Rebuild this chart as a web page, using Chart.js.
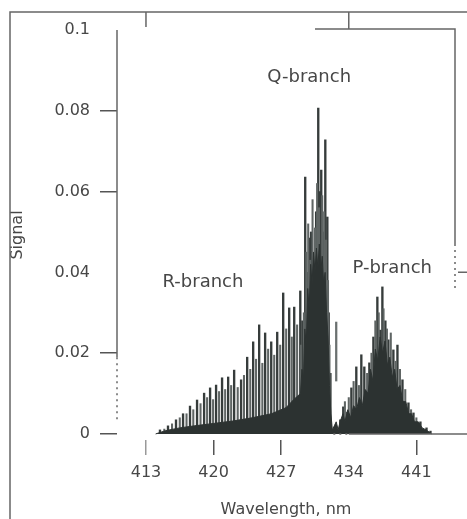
<!DOCTYPE html>
<html>
<head>
<meta charset="utf-8">
<title>Signal vs wavelength</title>
<script src="https://cdn.jsdelivr.net/npm/chart.js@4.4.0/dist/chart.umd.min.js"></script>
<style>
  html, body { margin: 0; padding: 0; background: #fff; }
  #wrap { position: relative; width: 467px; height: 519px; }
</style>
</head>
<body>
<div id="wrap"><canvas id="specChart" width="467" height="519"></canvas></div>
<script>
//------------------------------------------------------------------//
//------------------------------ Data ------------------------------//
//------------------------------------------------------------------//
// strong lines of the band (nm / signal)
var stickNm = [
    414.45, 415.28, 416.11, 416.84, 417.56, 418.29, 419.02, 419.64, 420.26, 420.88,
    421.51, 422.13, 422.85, 423.48, 424.10, 424.72, 425.34, 425.97, 426.59, 427.21,
    427.83, 428.35, 428.98, 429.20, 429.49, 429.70, 429.91, 430.10, 430.43, 430.62,
    430.84, 431.00, 431.15, 431.35, 431.57, 431.78, 431.92, 432.10,
    433.12, 433.43, 433.85, 434.27, 434.78, 435.30, 435.61, 436.13, 436.55, 436.96,
    437.27, 437.48, 437.79, 438.10, 438.62, 439.04, 439.56, 440.18, 440.70, 441.42,
    442.05, 442.46
];
var stickVal = [
    0.0010, 0.0020, 0.0035, 0.0050, 0.0069, 0.0084, 0.0101, 0.0114, 0.0121, 0.0139,
    0.0141, 0.0158, 0.0134, 0.0190, 0.0228, 0.0270, 0.0250, 0.0228, 0.0252, 0.0349,
    0.0312, 0.0314, 0.0354, 0.0280, 0.0636, 0.0400, 0.0485, 0.0500, 0.0450, 0.0550,
    0.0807, 0.0600, 0.0653, 0.0500, 0.0728, 0.0537, 0.0300, 0.0150,
    0.0035, 0.0067, 0.0054, 0.0114, 0.0166, 0.0196, 0.0166, 0.0176, 0.0240, 0.0339,
    0.0257, 0.0364, 0.0280, 0.0233, 0.0208, 0.0220, 0.0134, 0.0077, 0.0052, 0.0030,
    0.0015, 0.0007
];

// weaker lines in between
var weakNm = [
    414.90, 415.70, 416.50, 417.20, 417.90, 418.65, 419.33, 419.95, 420.57, 421.20,
    421.82, 422.50, 423.15, 423.80, 424.40, 425.05, 425.65, 426.28, 426.90, 427.52,
    428.10, 428.65, 429.05, 429.35, 429.60, 429.80, 430.00, 430.25, 430.50, 430.72,
    430.92, 431.25, 431.45, 431.65, 431.85, 432.00,
    433.60, 434.00, 434.50, 435.05, 435.90, 436.35, 436.75, 437.10, 437.60, 437.95,
    438.35, 438.85, 439.30, 439.85, 440.45, 441.00
];
var weakVal = [
    0.0012, 0.0025, 0.0040, 0.0050, 0.0060, 0.0075, 0.0090, 0.0085, 0.0105, 0.0110,
    0.0120, 0.0115, 0.0145, 0.0160, 0.0185, 0.0175, 0.0210, 0.0195, 0.0220, 0.0260,
    0.0240, 0.0270, 0.0220, 0.0300, 0.0450, 0.0520, 0.0430, 0.0580, 0.0510, 0.0620,
    0.0560, 0.0590, 0.0550, 0.0480, 0.0380, 0.0220,
    0.0080, 0.0090, 0.0130, 0.0120, 0.0150, 0.0200, 0.0280, 0.0300, 0.0310, 0.0260,
    0.0250, 0.0180, 0.0160, 0.0110, 0.0060, 0.0040
];

// lines that do not reach the baseline [low, high]
var floatNm = [432.70];
var floatLow = [0.0131];
var floatHigh = [0.0277];

// dense unresolved part of the band
var envelopeNm = [
    414.0, 415.0, 416.5, 418.0, 420.0, 422.0, 424.0, 426.0, 427.5, 428.3,
    429.00, 429.15, 429.30, 429.45, 429.60, 429.75, 429.90, 430.05, 430.20, 430.35,
    430.50, 430.65, 430.80, 430.95, 431.10, 431.25, 431.40, 431.55, 431.70, 431.85,
    432.00, 432.15, 432.30, 432.50, 432.70, 432.90,
    433.10, 433.40, 433.60, 433.90, 434.20, 434.50, 434.80, 435.10, 435.40, 435.70,
    436.00, 436.25, 436.50, 436.75, 437.00, 437.25, 437.50, 437.75, 438.00, 438.25,
    438.50, 438.75, 439.00, 439.30, 439.60, 439.90, 440.20, 440.50, 440.80, 441.20,
    441.60, 442.00, 442.60
];
var envelopeVal = [
    0.0000, 0.0008, 0.0015, 0.0020, 0.0026, 0.0032, 0.0040, 0.0050, 0.0065, 0.0085,
    0.0100, 0.0160, 0.0130, 0.0260, 0.0220, 0.0360, 0.0310, 0.0420, 0.0370, 0.0450,
    0.0400, 0.0460, 0.0410, 0.0470, 0.0400, 0.0440, 0.0370, 0.0400, 0.0300, 0.0240,
    0.0120, 0.0050, 0.0010, 0.0020, 0.0030, 0.0010,
    0.0030, 0.0050, 0.0030, 0.0060, 0.0040, 0.0070, 0.0060, 0.0090, 0.0070, 0.0110,
    0.0100, 0.0160, 0.0130, 0.0210, 0.0180, 0.0240, 0.0200, 0.0230, 0.0170, 0.0190,
    0.0140, 0.0160, 0.0110, 0.0120, 0.0080, 0.0080, 0.0050, 0.0050, 0.0030, 0.0030,
    0.0015, 0.0010, 0.0000
];

var xTicks = [413, 420, 427, 434, 441];
var yTicks = [0, 0.02, 0.04, 0.06, 0.08, 0.1];

// branch annotations
var branchText = ['Q-branch', 'R-branch', 'P-branch'];
var branchNm = [429.9, 418.9, 438.5];
var branchVal = [0.0882, 0.0376, 0.0410];

var INK = '#363c3b';
var TEXT = '#474747';

//------------------------------------------------------------------//
//---------------------------- Plugins -----------------------------//
//------------------------------------------------------------------//
var frameDecor = {
    id: 'frameDecor',
    beforeDraw: function (chart) {
        var ctx = chart.ctx;
        ctx.save();
        ctx.fillStyle = '#fff';
        ctx.fillRect(0, 0, chart.width, chart.height);
        ctx.restore();
    },
    afterDraw: function (chart) {
        var ctx = chart.ctx;
        var x = chart.scales.x;
        var y = chart.scales.y;
        var area = chart.chartArea;
        ctx.save();
        ctx.strokeStyle = '#666';
        ctx.lineWidth = 1.5;

        // outer page frame
        ctx.beginPath();
        ctx.moveTo(10, chart.height);
        ctx.lineTo(10, 12);
        ctx.lineTo(chart.width, 12);
        ctx.moveTo(x.getPixelForValue(413), 12);
        ctx.lineTo(x.getPixelForValue(413), 27);
        ctx.moveTo(x.getPixelForValue(434), 12);
        ctx.lineTo(x.getPixelForValue(434), area.top - 1);
        ctx.moveTo(315, area.top - 1);
        ctx.lineTo(area.right, area.top - 1);
        ctx.lineTo(area.right, y.getPixelForValue(0.047));
        ctx.moveTo(area.right + 3, y.getPixelForValue(0.04));
        ctx.lineTo(chart.width, y.getPixelForValue(0.04));
        ctx.stroke();

        // y axis line, solid then dotted near zero
        ctx.beginPath();
        ctx.moveTo(area.left, y.getPixelForValue(0.1));
        ctx.lineTo(area.left, y.getPixelForValue(0.019));
        ctx.stroke();
        ctx.setLineDash([2, 4]);
        ctx.beginPath();
        ctx.moveTo(area.left, y.getPixelForValue(0.019));
        ctx.lineTo(area.left, y.getPixelForValue(0.003));
        ctx.moveTo(area.right, y.getPixelForValue(0.047));
        ctx.lineTo(area.right, y.getPixelForValue(0.036));
        ctx.moveTo(x.getPixelForValue(432.4), y.getPixelForValue(0));
        ctx.lineTo(x.getPixelForValue(434), y.getPixelForValue(0));
        ctx.stroke();
        ctx.setLineDash([]);

        // baseline under the P-branch
        ctx.beginPath();
        ctx.moveTo(x.getPixelForValue(434), y.getPixelForValue(0));
        ctx.lineTo(chart.width, y.getPixelForValue(0));
        ctx.stroke();

        // branch labels
        ctx.fillStyle = TEXT;
        ctx.font = '18px "DejaVu Sans", sans-serif';
        ctx.textAlign = 'center';
        ctx.textBaseline = 'middle';
        for (var i = 0; i < branchText.length; i++) {
            ctx.fillText(branchText[i], x.getPixelForValue(branchNm[i]), y.getPixelForValue(branchVal[i]));
        }
        ctx.restore();
    }
};

//------------------------------------------------------------------//
//----------------------------- Chart ------------------------------//
//------------------------------------------------------------------//
Chart.defaults.font.family = '"DejaVu Sans", sans-serif';
Chart.defaults.font.size = 16;
Chart.defaults.color = TEXT;

function toPoints(xs, ys) {
    return xs.map(function (v, i) { return { x: v, y: ys[i] }; });
}

var sticks = toPoints(stickNm, stickVal);
var weak = toPoints(weakNm, weakVal);
var floats = floatNm.map(function (v, i) { return { x: v, y: [floatLow[i], floatHigh[i]] }; });
var envelope = toPoints(envelopeNm, envelopeVal);

var specChart = new Chart(document.getElementById('specChart'), {
    type: 'bar',
    data: {
        datasets: [{
            type: 'line',
            data: envelope,
            fill: 'origin',
            backgroundColor: '#2c3231',
            borderColor: '#2c3231',
            borderWidth: 1,
            pointRadius: 0,
            tension: 0
        }, {
            data: weak,
            backgroundColor: '#5f6564',
            barThickness: 1.4,
            grouped: false
        }, {
            data: sticks,
            backgroundColor: INK,
            barThickness: 1.7,
            grouped: false
        }, {
            data: floats,
            backgroundColor: '#6a706f',
            barThickness: 1.6,
            grouped: false
        }]
    },
    options: {
        responsive: false,
        animation: false,
        layout: {
            padding: { top: 30, right: 12, left: 8, bottom: 0 }
        },
        plugins: {
            legend: { display: false },
            tooltip: { enabled: false }
        },
        scales: {
            x: {
                type: 'linear',
                min: 410,
                max: 445,
                offset: false,
                border: { display: false },
                grid: {
                    offset: false,
                    drawOnChartArea: false,
                    tickLength: 15,
                    lineWidth: 1.5,
                    color: function (c) {
                        if (!c.tick) return 'rgba(0,0,0,0)';
                        if (c.tick.value === 434) return 'rgba(0,0,0,0)';
                        if (c.tick.value === 413) return '#999';
                        return '#555';
                    }
                },
                afterBuildTicks: function (scale) {
                    scale.ticks = xTicks.map(function (v) { return { value: v }; });
                },
                afterFit: function (scale) {
                    scale.height = 79;
                },
                ticks: {
                    padding: 8,
                    maxRotation: 0,
                    callback: function (v) { return String(v); }
                },
                title: {
                    display: true,
                    text: 'Wavelength, nm',
                    padding: { top: 0, bottom: 0 }
                }
            },
            y: {
                min: -0.0015,
                max: 0.1,
                border: { display: false },
                grid: {
                    drawOnChartArea: false,
                    tickLength: 17,
                    lineWidth: 1.5,
                    color: function (c) {
                        if (!c.tick) return 'rgba(0,0,0,0)';
                        var v = Math.round(c.tick.value * 100) / 100;
                        if (v === 0.1 || v === 0.04) return 'rgba(0,0,0,0)';
                        return '#555';
                    }
                },
                afterBuildTicks: function (scale) {
                    scale.ticks = yTicks.map(function (v) { return { value: v }; });
                },
                afterFit: function (scale) {
                    scale.width = 109;
                },
                ticks: {
                    padding: 10,
                    callback: function (v) { return String(Math.round(v * 100) / 100); }
                },
                title: {
                    display: true,
                    text: 'Signal',
                    padding: 0
                }
            }
        }
    },
    plugins: [frameDecor]
});
</script>
</body>
</html>
